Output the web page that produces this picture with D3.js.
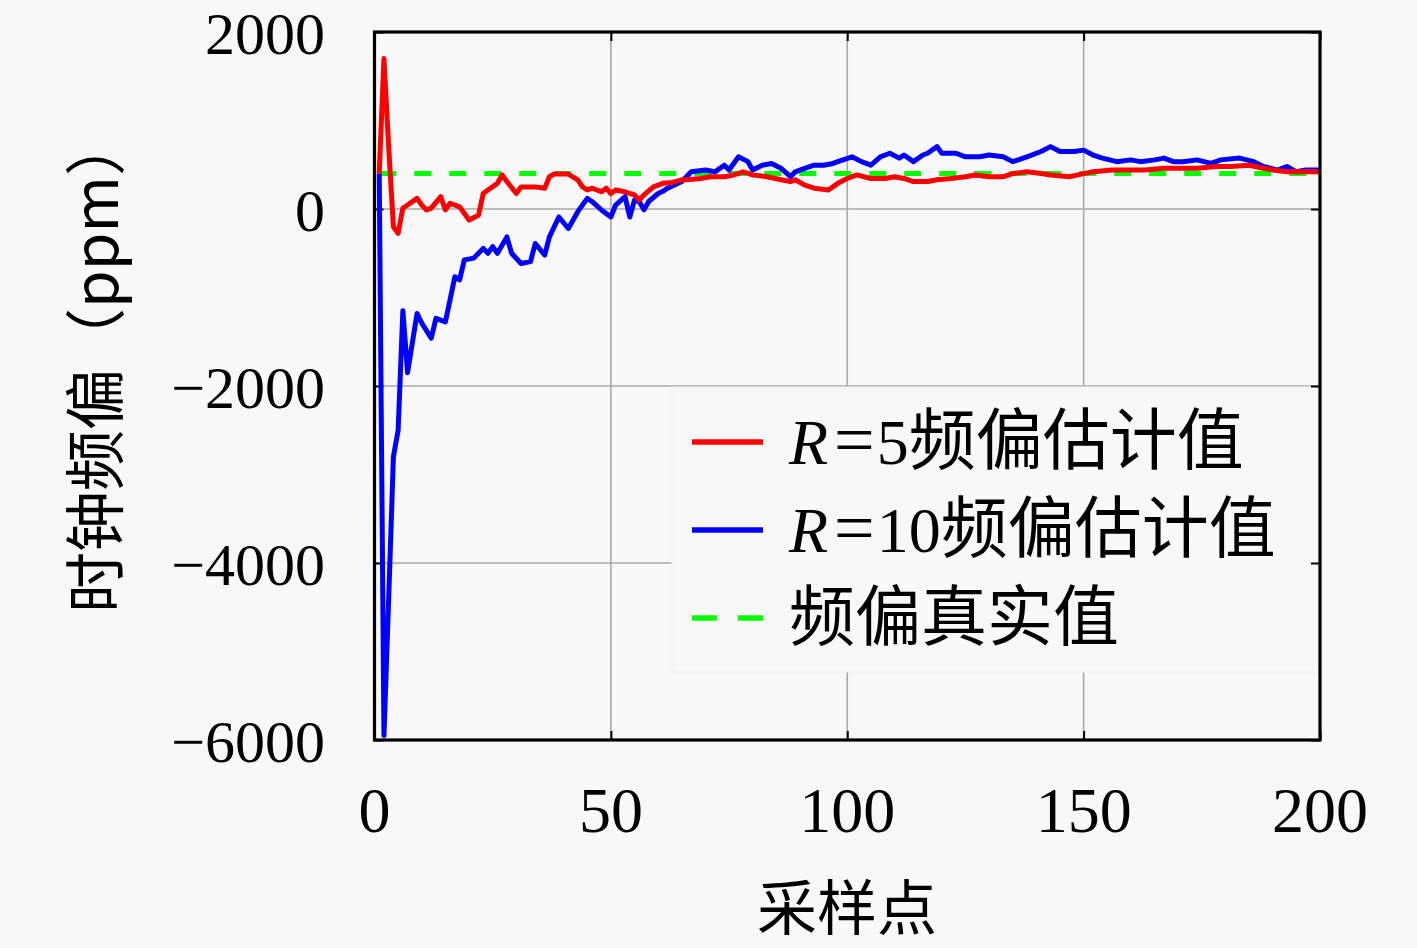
<!DOCTYPE html>
<html><head><meta charset="utf-8">
<script src="https://cdn.jsdelivr.net/npm/d3@7/dist/d3.min.js"></script>
<style>body{margin:0;background:#f8f8f8;} svg{display:block}</style>
</head><body><svg id="c" width="1417" height="948"></svg>
<script>
// ---- data ----
const xTicks = [0, 50, 100, 150, 200];
const yTicks = [2000, 0, -2000, -4000, -6000];
const xLabel = "采样点";
const yLabel = "时钟频偏（ppm）";

const r5X = [1,2,3,4,5,6,7,9,10,11,12,14,15,16,18,20,22,23,24,26,27,28,30,31,34,36,37,38,41,43,44,45,46,48,49,50,51,53,54,55,56,57,59,61,63,65,66,69,71,74,76,78,80,83,86,88,89,91,93,96,98,100,102,105,108,110,112,114,117,119,122,125,127,130,133,135,138,141,143,147,150,152,156,160,163,167,170,174,178,181,185,188,190,193,196,200];
const r5Y = [400,1700,700,-200,-275,10,45,120,45,-10,10,140,-10,65,25,-125,-70,175,215,290,385,310,175,250,250,235,365,395,395,330,250,215,235,195,235,175,215,195,175,160,100,160,250,290,300,330,330,345,365,365,385,420,385,365,330,310,330,270,235,215,290,345,385,345,345,365,345,310,310,330,345,365,385,365,365,400,420,400,385,365,400,420,440,440,440,460,460,460,480,480,495,460,440,420,420,420];

const r10X = [1,2,3,4,5,6,7,9,10,12,13,15,17,18,19,21,23,24,25,26,28,29,31,33,34,36,37,39,41,43,45,46,48,50,51,53,54,55,56,57,58,60,61,62,65,67,70,72,74,75,77,79,80,82,84,86,88,89,91,93,95,97,98,101,103,105,107,109,111,112,114,116,117,119,120,123,125,128,130,133,135,138,141,143,145,148,150,152,154,157,160,162,165,167,169,171,174,177,179,183,186,188,191,193,195,197,200];
const r10Y = [400,-5950,-4400,-2800,-2500,-1150,-1850,-1180,-1290,-1460,-1235,-1275,-765,-800,-575,-555,-445,-500,-425,-500,-315,-500,-615,-595,-390,-520,-315,-90,-220,-30,120,85,-10,-90,45,140,-90,100,85,-10,85,175,200,235,310,420,440,420,495,440,590,535,440,495,515,460,365,420,460,495,495,515,535,590,535,495,590,630,575,610,535,610,630,705,630,630,590,590,610,590,535,590,650,705,650,650,665,610,575,535,555,535,555,575,535,535,555,515,555,575,535,480,440,480,420,440,440];

const trueX = [1, 200];
const trueY = [400, 400];

const legendNames = ["=5频偏估计值", "=10频偏估计值", "频偏真实值"];
const legendColors = ["#ff0000", "#0000ff", "#00ff00"];

// ---- chart ----
const svg = d3.select("#c");
const L = 374.5, R = 1320, T = 32, B = 740;
const x = d3.scaleLinear().domain([0, 200]).range([L, R]);
const y = d3.scaleLinear().domain([-6000, 2000]).range([B, T]);
const serif = "'Liberation Serif','DejaVu Serif',serif";
const cjk = "'Noto Sans CJK SC','Noto Sans CJK JP',sans-serif";

svg.append("rect").attr("width",1417).attr("height",948).attr("fill","#f8f8f8");

// grid
const grid = svg.append("g").attr("stroke","#a9a9a9").attr("stroke-width",1.6);
xTicks.slice(1,-1).forEach(t => grid.append("line").attr("x1",x(t)).attr("x2",x(t)).attr("y1",T).attr("y2",B));
yTicks.slice(1,-1).forEach(t => grid.append("line").attr("y1",y(t)).attr("y2",y(t)).attr("x1",L).attr("x2",R));

// legend box (covers grid)
svg.append("rect").attr("x",672).attr("y",387).attr("width",R-672).attr("height",285)
  .attr("fill","#f8f8f8").attr("stroke","#efefef").attr("stroke-width",1);

// ticks inward on all sides via axes
const tl = 9;
const styleTicks = g => { g.select(".domain").remove(); g.selectAll("line").attr("stroke","#000").attr("stroke-width",2); };
svg.append("g").attr("transform",`translate(0,${B})`)
  .call(d3.axisBottom(x).tickValues(xTicks).tickSize(-tl).tickFormat("")).call(styleTicks);
svg.append("g").attr("transform",`translate(0,${T})`)
  .call(d3.axisTop(x).tickValues(xTicks).tickSize(-tl).tickFormat("")).call(styleTicks);
svg.append("g").attr("transform",`translate(${L},0)`)
  .call(d3.axisLeft(y).tickValues(yTicks).tickSize(-tl).tickFormat("")).call(styleTicks);
svg.append("g").attr("transform",`translate(${R},0)`)
  .call(d3.axisRight(y).tickValues(yTicks).tickSize(-tl).tickFormat("")).call(styleTicks);

// series
const line = d3.line().x(d=>x(d[0])).y(d=>y(d[1]));
const plot = svg.append("g");
plot.append("path").datum(trueX.map((v,i)=>[v,trueY[i]])).attr("d",line)
  .attr("fill","none").attr("stroke","#00ff00").attr("stroke-width",5).attr("stroke-dasharray","17,18");
plot.append("path").datum(r10X.map((v,i)=>[v,r10Y[i]])).attr("d",line)
  .attr("fill","none").attr("stroke","#0000ff").attr("stroke-width",5).attr("stroke-linejoin","round");
plot.append("path").datum(r5X.map((v,i)=>[v,r5Y[i]])).attr("d",line)
  .attr("fill","none").attr("stroke","#ff0000").attr("stroke-width",5).attr("stroke-linejoin","round");

// frame
svg.append("rect").attr("x",L).attr("y",T).attr("width",R-L).attr("height",B-T)
  .attr("fill","none").attr("stroke","#000").attr("stroke-width",3.2);

// tick labels
const fmt = v => v < 0 ? "\u2212" + Math.abs(v) : String(v);
svg.append("g").selectAll("text").data(yTicks).join("text")
  .attr("x",325).attr("y",d=>y(d)+22).attr("text-anchor","end")
  .attr("font-family",serif).attr("font-size",60).attr("fill","#000").text(fmt);
svg.append("g").selectAll("text").data(xTicks).join("text")
  .attr("x",d=>x(d)).attr("y",832).attr("text-anchor","middle")
  .attr("font-family",serif).attr("font-size",64).attr("fill","#000").text(fmt);

// axis titles
svg.append("text").attr("x",847).attr("y",930).attr("text-anchor","middle")
  .attr("font-family",cjk).attr("font-size",60)
  .attr("fill","#000").text(xLabel);
svg.append("text").attr("transform","translate(91,364) rotate(-90)").attr("text-anchor","middle")
  .attr("dominant-baseline","central").attr("font-family",cjk).attr("font-size",61)
  .attr("fill","#000").text(yLabel);

// legend
const legY = [442, 530, 618];
legendNames.forEach((name,i)=>{
  svg.append("line").attr("x1",692).attr("x2",763).attr("y1",legY[i]).attr("y2",legY[i])
    .attr("stroke",legendColors[i]).attr("stroke-width",5.5)
    .attr("stroke-dasharray", i===2 ? "25,21" : null);
  const t = svg.append("text").attr("x",789).attr("y",legY[i]+22)
    .attr("font-size",64).attr("fill","#000");
  if (i < 2) {
    t.append("tspan").attr("font-family",serif).attr("font-style","italic").text("R");
    const m = name.match(/^=(\d+)(.*)$/);
    t.append("tspan").attr("font-family",serif).attr("dx",6).attr("font-size",72).text("=");
    t.append("tspan").attr("font-family",serif).attr("dx",2).text(m[1]);
    t.append("tspan").attr("font-family",cjk).attr("font-size",67).text(m[2]);
  } else {
    t.attr("font-family",cjk).attr("font-size",66).text(name);
  }
});
</script></body></html>
